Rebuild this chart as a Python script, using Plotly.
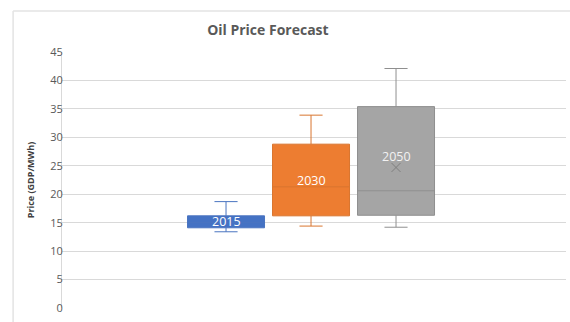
import plotly.graph_objects as go

# Forecast distributions per year (GDP/MWh)
years = ["2015", "2030", "2050"]
lower_whisker = [13.4, 14.4, 14.2]
q1 = [14.1, 16.2, 16.3]
median = [15.0, 21.3, 20.6]
q3 = [16.2, 28.8, 35.4]
upper_whisker = [18.7, 33.9, 42.1]
mean_2050 = 24.7

fill_colors = ["#4472C4", "#ED7D31", "#A5A5A5"]
line_colors = ["#4A74C0", "#D9752F", "#8F8F8F"]
label_colors = ["#FFFFFF", "#FFFFFF", "#F2F2F2"]
label_shift = [0, 0, 4]

fig = go.Figure()
for i, yr in enumerate(years):
    fig.add_trace(go.Box(
        x=[yr],
        q1=[q1[i]], median=[median[i]], q3=[q3[i]],
        lowerfence=[lower_whisker[i]], upperfence=[upper_whisker[i]],
        fillcolor=fill_colors[i],
        line=dict(color=line_colors[i], width=1),
        width=0.906,
        whiskerwidth=0.3,
        name=yr,
        showlegend=False,
        hoverinfo="skip",
    ))
    # category index as the annotation position (numeric-looking names)
    fig.add_annotation(
        x=i, y=(q1[i] + q3[i]) / 2, yshift=label_shift[i],
        text=yr, showarrow=False,
        font=dict(family="Open Sans", size=12.5, color=label_colors[i]),
    )

# mean marker for the 2050 distribution
fig.add_trace(go.Scatter(
    x=["2050"], y=[mean_2050], mode="markers",
    marker=dict(symbol="x-thin", size=9, line=dict(color="#7F7F7F", width=1)),
    showlegend=False, hoverinfo="skip",
))

# chart frame edges
fig.add_shape(type="line", xref="paper", yref="paper",
              x0=-0.097, x1=1.01, y0=1.16, y1=1.16,
              line=dict(color="#E3E3E3", width=1.5))
fig.add_shape(type="line", xref="paper", yref="paper",
              x0=-0.097, x1=-0.097, y0=-0.06, y1=1.16,
              line=dict(color="#E3E3E3", width=1.5))

fig.update_layout(
    width=570, height=322,
    margin=dict(l=62, r=4, t=52, b=14),
    paper_bgcolor="white", plot_bgcolor="white",
    boxmode="overlay",
    title=dict(text="<b>Oil Price Forecast</b>", x=0.47, xanchor="center",
               y=0.905, yanchor="middle",
               font=dict(family="Open Sans", size=14, color="#595959")),
    xaxis=dict(type="category", categoryorder="array", categoryarray=years,
               range=[-1.93, 4.0], showticklabels=False, showgrid=False,
               zeroline=False, ticks=""),
    yaxis=dict(range=[0, 45], dtick=5, showgrid=True, gridcolor="#D9D9D9",
               gridwidth=1, zeroline=False, showline=True, linecolor="#D9D9D9",
               ticklabelstandoff=-4,
               tickfont=dict(family="Open Sans", size=11, color="#595959"),
               title=dict(text="<b>Price (GDP/MWh)</b>", standoff=14,
                          font=dict(family="Open Sans", size=9, color="#404040"))),
)

fig.write_html("out.html")
